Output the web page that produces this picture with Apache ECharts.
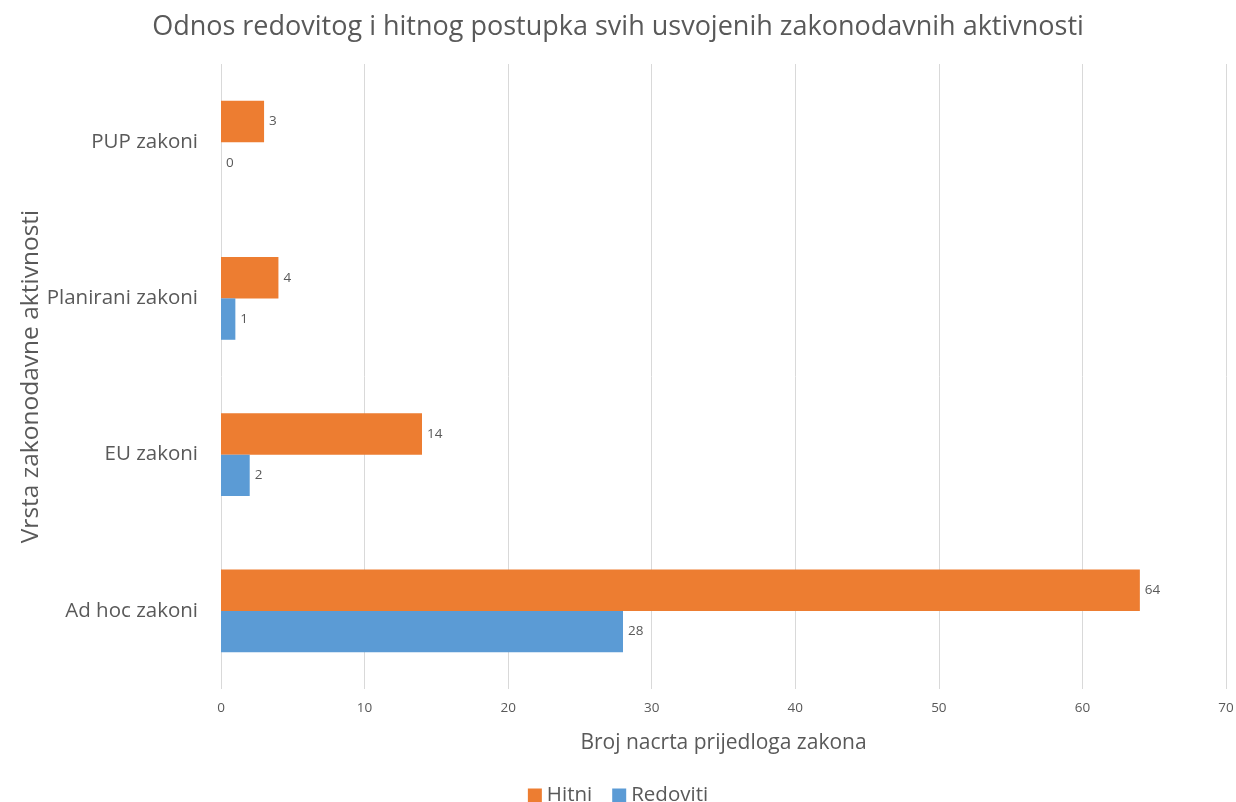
<!DOCTYPE html>
<html><head><meta charset="utf-8">
<script src="https://cdn.jsdelivr.net/npm/echarts@6/dist/echarts.min.js"></script>
<style>html,body{margin:0;padding:0;background:#fff}#c{width:1236px;height:802px}</style>
</head><body><div id="c"></div>
<script>
const categories = ['Ad hoc zakoni', 'EU zakoni', 'Planirani zakoni', 'PUP zakoni'];
const hitni = [64, 14, 4, 3];
const redoviti = [28, 2, 1, 0];
const xTicks = [0, 10, 20, 30, 40, 50, 60, 70];

const font = '"Open Sans", "Noto Sans", sans-serif';
const txt = '#595959';
const chart = echarts.init(document.getElementById('c'));
const lbl = {show: true, position: 'right', color: txt, fontSize: 13.5, fontFamily: font, distance: 5};
chart.setOption({
  animation: false,
  title: {text: 'Odnos redovitog i hitnog postupka svih usvojenih zakonodavnih aktivnosti', left: 'center', top: 9,
    textStyle: {color: txt, fontSize: 27, fontWeight: 'normal', fontFamily: font}},
  legend: {data: ['Hitni', 'Redoviti'], bottom: -9, itemWidth: 14, itemHeight: 14, itemGap: 20, icon: 'rect',
    textStyle: {color: txt, fontSize: 20.5, fontFamily: font}},
  grid: {left: 221, right: 10, top: 64, bottom: 113, containLabel: false, outerBoundsMode: 'none'},
  xAxis: {type: 'value', min: 0, max: 70, interval: 10,
    name: 'Broj nacrta prijedloga zakona', nameLocation: 'middle', nameGap: 44,
    nameTextStyle: {color: txt, fontSize: 21, fontFamily: font},
    axisLine: {show: false}, axisTick: {show: false},
    axisLabel: {color: txt, fontSize: 13.5, fontFamily: font, margin: 12,
      formatter: v => xTicks.includes(v) ? String(v) : ''},
    splitLine: {lineStyle: {color: '#D9D9D9'}}},
  yAxis: {type: 'category', data: categories,
    name: 'Vrsta zakonodavne aktivnosti', nameLocation: 'middle', nameGap: 177, nameRotate: 90,
    nameMoveOverlap: false,
    nameTextStyle: {color: txt, fontSize: 24.5, fontFamily: font},
    axisLine: {show: false}, axisTick: {show: false},
    axisLabel: {color: txt, fontSize: 20.5, fontFamily: font, margin: 23}},
  series: [
    {name: 'Hitni', type: 'bar', data: hitni, itemStyle: {color: '#ED7D31'}, barGap: '0%', barCategoryGap: '47%', label: lbl},
    {name: 'Redoviti', type: 'bar', data: redoviti, itemStyle: {color: '#5B9BD5'}, barGap: '0%', barCategoryGap: '47%', label: lbl}
  ]
});
</script></body></html>
